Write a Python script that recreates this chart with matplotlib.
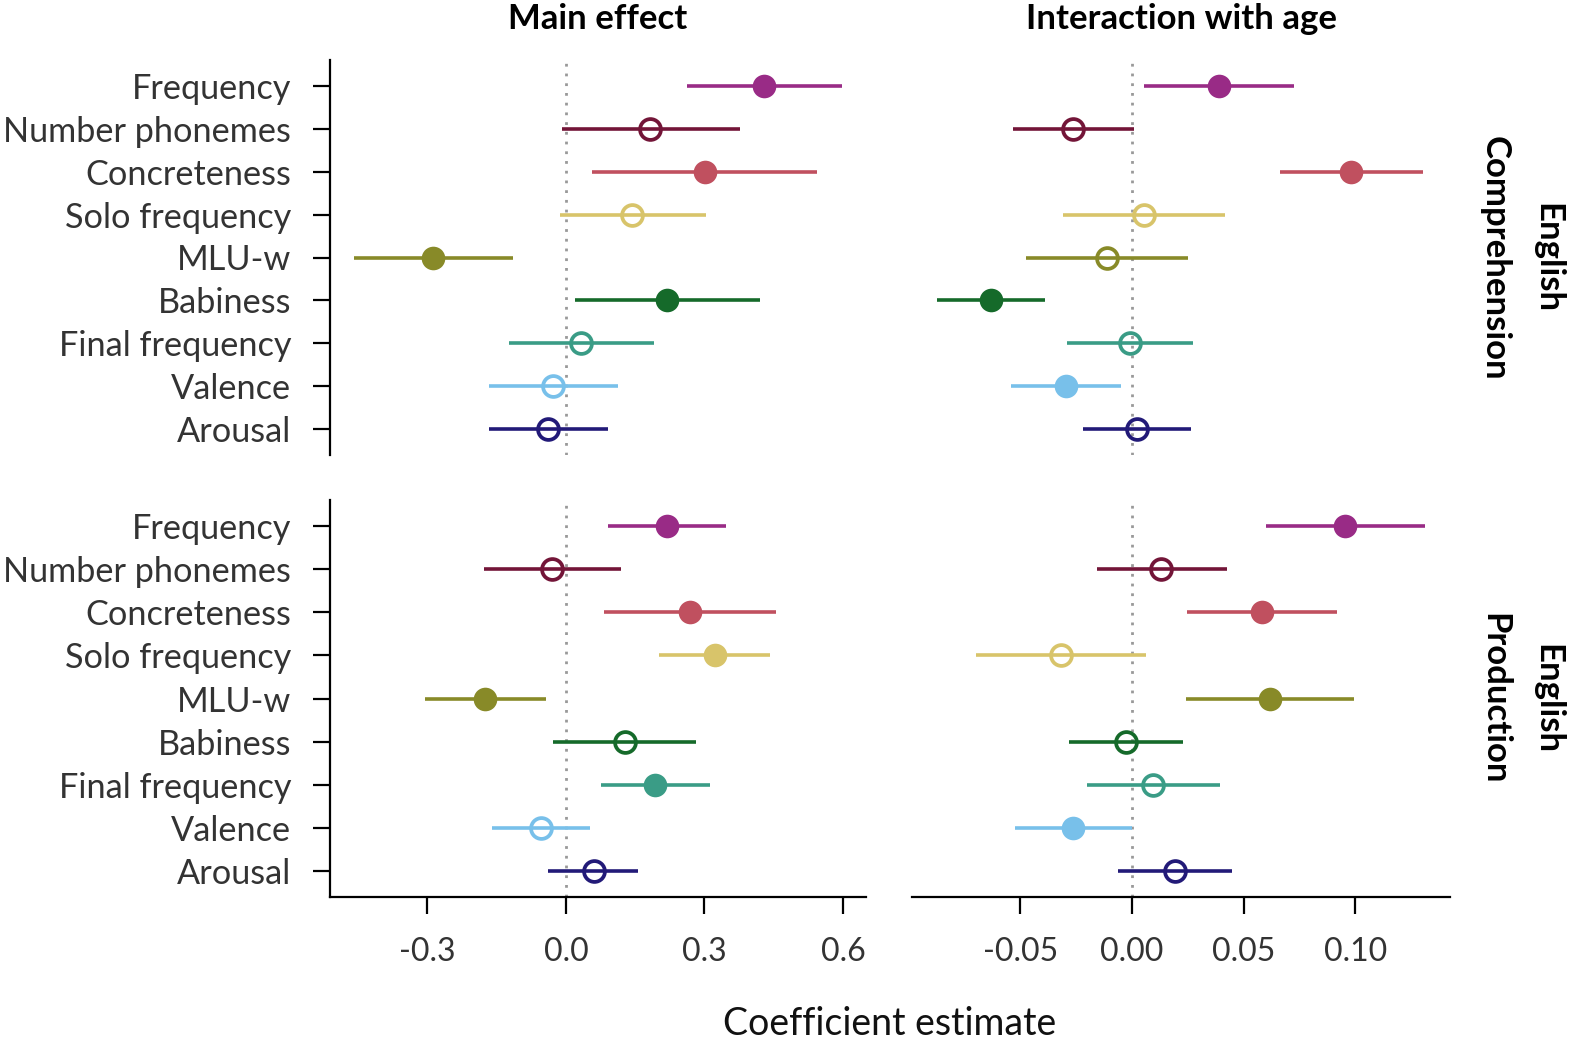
import numpy as np
import matplotlib
matplotlib.use("Agg")
import matplotlib.pyplot as plt

plt.rcParams['font.family'] = ['Lato', 'DejaVu Sans']

# --------------------
# Data
# --------------------
predictors = ["Frequency", "Number phonemes", "Concreteness", "Solo frequency",
              "MLU-w", "Babiness", "Final frequency", "Valence", "Arousal"]
colors = ["#992B86", "#731538", "#C0505F", "#D8C46A", "#888A28",
          "#156A2A", "#3A9C86", "#78C0EA", "#221A78"]

# Comprehension - main effect
comp_main_est = [0.430, 0.183, 0.301, 0.144, -0.287, 0.220, 0.032, -0.028, -0.039]
comp_main_lo = [0.263, -0.009, 0.057, -0.012, -0.459, 0.019, -0.124, -0.166, -0.166]
comp_main_hi = [0.598, 0.376, 0.544, 0.304, -0.114, 0.421, 0.190, 0.113, 0.091]
comp_main_sig = [1, 0, 1, 0, 1, 1, 0, 0, 0]

# Comprehension - interaction with age
comp_int_est = [0.0389, -0.0263, 0.0979, 0.0052, -0.0112, -0.0632, -0.0011, -0.0295, 0.0020]
comp_int_lo = [0.0055, -0.0532, 0.0661, -0.0310, -0.0473, -0.0871, -0.0292, -0.0541, -0.0221]
comp_int_hi = [0.0725, 0.0009, 0.1301, 0.0418, 0.0252, -0.0390, 0.0272, -0.0049, 0.0263]
comp_int_sig = [1, 0, 1, 0, 0, 1, 0, 1, 0]

# Production - main effect
prod_main_est = [0.219, -0.031, 0.268, 0.322, -0.176, 0.127, 0.194, -0.054, 0.060]
prod_main_lo = [0.092, -0.178, 0.083, 0.202, -0.306, -0.027, 0.075, -0.160, -0.038]
prod_main_hi = [0.347, 0.119, 0.455, 0.442, -0.044, 0.281, 0.313, 0.053, 0.157]
prod_main_sig = [1, 0, 1, 1, 1, 0, 1, 0, 0]

# Production - interaction with age
prod_int_est = [0.0954, 0.0131, 0.0582, -0.0318, 0.0618, -0.0029, 0.0094, -0.0266, 0.0191]
prod_int_lo = [0.0599, -0.0158, 0.0247, -0.0699, 0.0241, -0.0284, -0.0201, -0.0526, -0.0063]
prod_int_hi = [0.1312, 0.0423, 0.0917, 0.0063, 0.0994, 0.0226, 0.0392, -0.0002, 0.0447]
prod_int_sig = [1, 0, 1, 0, 1, 0, 0, 1, 0]

main_ticks = [-0.3, 0.0, 0.3, 0.6]
main_ticklabels = ["-0.3", "0.0", "0.3", "0.6"]
int_ticks = [-0.05, 0.0, 0.05, 0.10]
int_ticklabels = ["-0.05", "0.00", "0.05", "0.10"]

W, H = 1573, 1042
fig = plt.figure(figsize=(W / 100, H / 100), dpi=100)


def px_axes(x0, y0, x1, y1):
    return fig.add_axes([x0 / W, 1 - y1 / H, (x1 - x0) / W, (y1 - y0) / H])


def draw_panel(ax, est, lo, hi, sig, xlim, left, bottom):
    n = len(predictors)
    ypos = np.arange(n)[::-1] + 1
    ax.axvline(0, color="#999999", lw=2, ls=(0, (1, 2.5)), zorder=1)
    for i in range(n):
        ax.plot([lo[i], hi[i]], [ypos[i], ypos[i]], color=colors[i], lw=2.6,
                solid_capstyle="butt", zorder=2)
        if sig[i]:
            ax.plot(est[i], ypos[i], "o", ms=17, color=colors[i], mec=colors[i],
                    mew=0, zorder=3)
        else:
            ax.plot(est[i], ypos[i], "o", ms=15, mfc="none", mec=colors[i],
                    mew=2.7, zorder=3)
    ax.set_xlim(*xlim)
    ax.set_ylim(0.4, n + 0.6)
    for s in ["top", "right"]:
        ax.spines[s].set_visible(False)
    ax.spines["left"].set_visible(left)
    ax.spines["bottom"].set_visible(bottom)
    ax.spines["left"].set_linewidth(1.6)
    ax.spines["bottom"].set_linewidth(1.6)
    if left:
        ax.set_yticks(ypos)
        ax.set_yticklabels(predictors, fontsize=24.7, color="#333333")
        ax.tick_params(axis="y", length=12, width=1.6, pad=16)
    else:
        ax.set_yticks([])
    ax.tick_params(axis="x", length=12, width=1.6, pad=17, labelsize=23,
                   labelcolor="#333333")


xlim_main = (-0.511, 0.650)
xlim_int = (-0.0985, 0.1423)

ax1 = px_axes(330, 60, 866, 455)
draw_panel(ax1, comp_main_est, comp_main_lo, comp_main_hi, comp_main_sig, xlim_main, True, False)
ax1.set_xticks([])

ax2 = px_axes(912, 60, 1450, 455)
draw_panel(ax2, comp_int_est, comp_int_lo, comp_int_hi, comp_int_sig, xlim_int, False, False)
ax2.set_xticks([])

ax3 = px_axes(330, 500, 866, 897)
draw_panel(ax3, prod_main_est, prod_main_lo, prod_main_hi, prod_main_sig, xlim_main, True, True)
ax3.set_xticks(main_ticks)
ax3.set_xticklabels(main_ticklabels)

ax4 = px_axes(912, 500, 1450, 897)
draw_panel(ax4, prod_int_est, prod_int_lo, prod_int_hi, prod_int_sig, xlim_int, False, True)
ax4.set_xticks(int_ticks)
ax4.set_xticklabels(int_ticklabels)

# column titles
fig.text(598 / W, 1 - 19 / H, "Main effect", ha="center", va="center",
         fontsize=25, fontweight="bold")
fig.text(1181 / W, 1 - 19 / H, "Interaction with age", ha="center", va="center",
         fontsize=25, fontweight="bold")

# row strips
fig.text(1521 / W, 1 - 258 / H, "English\nComprehension", ha="center", va="center",
         rotation=270, fontsize=25, fontweight="bold", multialignment="center",
         linespacing=1.8)
fig.text(1521 / W, 1 - 699 / H, "English\nProduction", ha="center", va="center",
         rotation=270, fontsize=25, fontweight="bold", multialignment="center",
         linespacing=1.8)

fig.text(890 / W, 1 - 1024 / H, "Coefficient estimate", ha="center", va="center",
         fontsize=27, color="#111111")

fig.savefig("out.png", dpi=100)
